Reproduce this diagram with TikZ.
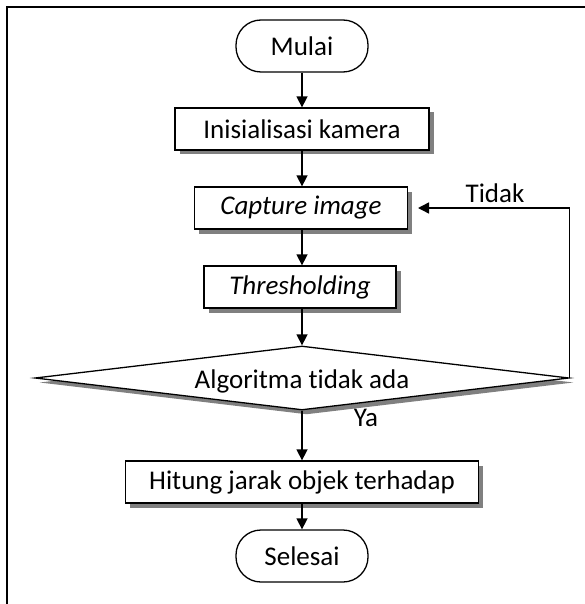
\documentclass[tikz,border=0pt]{standalone}
\usepackage{fontspec}
\setmainfont{Carlito}[Ligatures=NoCommon]
\usetikzlibrary{arrows.meta,shapes.geometric,shadows}
\begin{document}
\begin{tikzpicture}[x=1pt,y=-1pt,
  font=\fontsize{27}{31}\selectfont,
  shd/.style={drop shadow={shadow xshift=4.5pt,shadow yshift=-4.5pt,fill=black!50,opacity=1}},
  procbox/.style={draw,line width=1.3pt,fill=white,rectangle,minimum height=42pt,inner sep=0pt,shd},
  termbox/.style={draw,line width=1.3pt,fill=white,rectangle,rounded corners=25pt,minimum width=132pt,minimum height=52pt,inner sep=0pt},
  decbox/.style={draw,line width=1.3pt,fill=white,diamond,minimum width=534pt,minimum height=64pt,inner sep=0pt,shd},
  arr/.style={line width=1.5pt,-{Triangle[length=11pt,width=11pt]}},
  lbl/.style={inner sep=0pt}]
\useasboundingbox (0,0) rectangle (585,604);
\draw[line width=2.5pt] (7,604) -- (7,7) -- (585,7);
\node[termbox] (mulai) at (302,46) {Mulai};
\node[procbox,minimum width=254pt] (init) at (302,129) {Inisialisasi kamera};
\node[procbox,minimum width=213pt] (cap) at (301,208) {\itshape Capture image};
\node[procbox,minimum width=192pt] (thr) at (300,287) {\itshape Thresholding};
\node[decbox] (dia) at (302,378) {};
\node[lbl] (diatext) at (302,381) {Algoritma tidak ada};
\node[procbox,minimum width=353pt] (hit) at (302,482) {Hitung jarak objek terhadap};
\node[termbox] (sel) at (302,556) {Selesai};
\coordinate (tip) at (418,208);
\draw[arr] (mulai.south) -- (init.north);
\draw[arr] (init.south) -- (init.south |- cap.north);
\draw[arr] (init.south |- cap.south) -- (init.south |- thr.north);
\draw[arr] (init.south |- thr.south) -- (dia.north);
\draw[arr] (dia.south) -- (hit.north);
\draw[arr] (hit.south) -- (sel.north);
\draw[arr] (dia.east) -- (dia.east |- tip) -- (tip);
\node[lbl] (tidak) at (495,193) {Tidak};
\node[lbl] (ya) at (366,418) {Ya};
\end{tikzpicture}
\end{document}
